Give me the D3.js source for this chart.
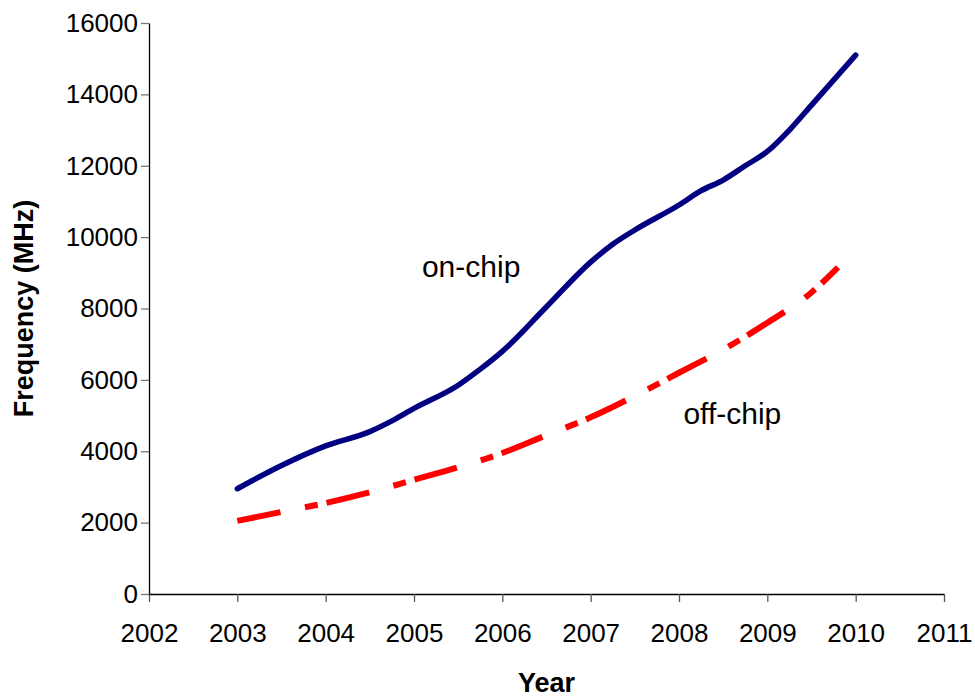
<!DOCTYPE html>
<html>
<head>
<meta charset="utf-8">
<script src="https://cdn.jsdelivr.net/npm/d3@7"></script>
<style>
  body { margin: 0; background: #fff; }
  svg text { font-family: "Liberation Sans", Arial, sans-serif; }
</style>
</head>
<body>
<div id="chart"></div>
<script>
// on-chip series
const onChipYears = [2003, 2003.5, 2004, 2004.5, 2004.75, 2005, 2005.5, 2005.75, 2006, 2006.5, 2007, 2007.25, 2007.5, 2008, 2008.25, 2008.5, 2008.75, 2009, 2009.25, 2009.5, 2010];
const onChipValues = [2950, 3600, 4150, 4550, 4850, 5200, 5850, 6300, 6800, 8050, 9300, 9800, 10200, 10900, 11300, 11600, 12000, 12400, 13000, 13700, 15100];

// off-chip series
const offChipYears = [2003, 2003.5, 2004, 2004.5, 2005, 2005.5, 2006, 2006.5, 2007, 2007.5, 2008, 2008.5, 2009, 2009.5, 2009.8];
const offChipValues = [2050, 2300, 2550, 2850, 3200, 3550, 3950, 4450, 4950, 5550, 6200, 6850, 7600, 8450, 9150];

// tick labels
const xTicks = [2002, 2003, 2004, 2005, 2006, 2007, 2008, 2009, 2010, 2011];
const yTicks = [0, 2000, 4000, 6000, 8000, 10000, 12000, 14000, 16000];

const W = 975, H = 697;
const margin = { top: 23, right: 31, bottom: 103, left: 149 };
const width = W - margin.left - margin.right;
const height = H - margin.top - margin.bottom;

const svg = d3.select("#chart").append("svg")
    .attr("width", W)
    .attr("height", H);

const g = svg.append("g")
    .attr("transform", "translate(" + margin.left + "," + margin.top + ")");

const x = d3.scaleLinear()
    .domain([2002, 2011])
    .range([0, width]);

const y = d3.scaleLinear()
    .domain([0, 16000])
    .range([height, 0]);

// x axis
const xAxis = g.append("g")
    .attr("transform", "translate(0," + height + ")")
    .call(d3.axisBottom(x).tickValues(xTicks).tickFormat(d3.format("d"))
        .tickSize(8).tickSizeOuter(0).tickPadding(22));
xAxis.select(".domain").attr("stroke", "#000").attr("stroke-width", 1.3);
xAxis.selectAll(".tick line").attr("stroke", "#555").attr("stroke-width", 1.3);
xAxis.selectAll("text").attr("font-size", 26).attr("fill", "#000")
    .style("font-family", "'Liberation Sans', Arial, sans-serif");

// y axis
const yAxis = g.append("g")
    .call(d3.axisLeft(y).tickValues(yTicks).tickFormat(d3.format("d"))
        .tickSize(8).tickSizeOuter(0).tickPadding(3));
yAxis.select(".domain").attr("stroke", "#000").attr("stroke-width", 1.3);
yAxis.selectAll(".tick line").attr("stroke", "#777").attr("stroke-width", 1.3);
yAxis.selectAll("text").attr("font-size", 26).attr("fill", "#000")
    .style("font-family", "'Liberation Sans', Arial, sans-serif");

// axis titles
g.append("text")
    .attr("x", width / 2)
    .attr("y", height + 98)
    .attr("text-anchor", "middle")
    .attr("font-size", 27)
    .attr("font-weight", "bold")
    .text("Year");

g.append("text")
    .attr("transform", "rotate(-90)")
    .attr("x", -height / 2)
    .attr("y", -116)
    .attr("text-anchor", "middle")
    .attr("font-size", 27)
    .attr("font-weight", "bold")
    .text("Frequency (MHz)");

// lines
const line = d3.line()
    .x(d => x(d[0]))
    .y(d => y(d[1]))
    .curve(d3.curveMonotoneX);

const onChip = onChipYears.map((yr, i) => [yr, onChipValues[i]]);
const offChip = offChipYears.map((yr, i) => [yr, offChipValues[i]]);

g.append("path")
    .datum(offChip)
    .attr("d", line)
    .attr("fill", "none")
    .attr("stroke", "#ff0000")
    .attr("stroke-width", 6)
    .attr("stroke-dasharray", "44,25,13,9");

g.append("path")
    .datum(onChip)
    .attr("d", line)
    .attr("fill", "none")
    .attr("stroke", "#000080")
    .attr("stroke-width", 5.5)
    .attr("stroke-linecap", "round")
    .attr("stroke-linejoin", "round");

// series labels
g.append("text")
    .attr("x", x(2005.09))
    .attr("y", y(8870))
    .attr("font-size", 30)
    .text("on-chip");

g.append("text")
    .attr("x", x(2008.05))
    .attr("y", y(4770))
    .attr("font-size", 30)
    .text("off-chip");
</script>
</body>
</html>
